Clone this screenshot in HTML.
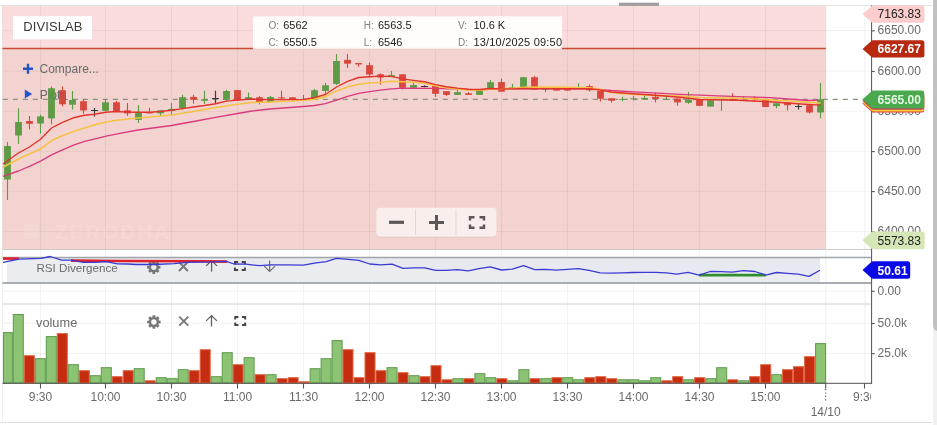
<!DOCTYPE html><html><head><meta charset="utf-8"><title>DIVISLAB chart</title>
<style>html,body{margin:0;padding:0;background:#fff}body{width:937px;height:425px;overflow:hidden;position:relative}svg{display:block;will-change:transform}text{font-family:"Liberation Sans", sans-serif}</style></head><body>
<svg width="937" height="425" viewBox="0 0 937 425">
<rect width="937" height="425" fill="#fff"/>
<rect x="2.5" y="5.5" width="823.3" height="43" fill="#fadcdc"/>
<rect x="2.5" y="48.5" width="823.3" height="201" fill="#f3d3cf"/>
<rect x="0" y="5" width="932" height="1" fill="#e3e3e3"/>
<g stroke="#000" stroke-opacity="0.05" stroke-width="1" fill="none">
<path d="M40.5 5.5V383"/>
<path d="M105.5 5.5V383"/>
<path d="M171.5 5.5V383"/>
<path d="M237.5 5.5V383"/>
<path d="M303.5 5.5V383"/>
<path d="M369.5 5.5V383"/>
<path d="M435.5 5.5V383"/>
<path d="M501.5 5.5V383"/>
<path d="M567.5 5.5V383"/>
<path d="M633.5 5.5V383"/>
<path d="M699.5 5.5V383"/>
<path d="M765.5 5.5V383"/>
<path d="M2.5 30.5H871"/>
<path d="M2.5 71.2H871"/>
<path d="M2.5 111.3H871"/>
<path d="M2.5 151.3H871"/>
<path d="M2.5 191.3H871"/>
<path d="M2.5 231.6H871"/>
</g>
<g stroke="#000" stroke-opacity="0.06" stroke-width="1" fill="none">
<path d="M825.8 5.5V383"/><path d="M864.8 5.5V383"/>
<path d="M2.5 5.5V422"/>
<path d="M2.5 291H871"/>
<path d="M2.5 323.2H871"/>
<path d="M2.5 353.4H871"/>
</g>
<path d="M2.5 249.5H871" stroke="#ccc" stroke-width="1"/>
<path d="M2.5 304H871" stroke="#d0d0d0" stroke-width="1"/>
<rect x="7" y="257.5" width="813" height="25.5" fill="#eaecf0"/>
<polygon points="7,257.5 19.0,259.1 41.0,258.4 50.3,256.5 61.5,260.1 72.0,260.1 83.2,262.3 95.0,262.3 106.3,261.6 117.3,263.9 128.0,264.0 136.0,264.5 155.0,264.5 174.0,263.6 187.0,262.3 212.0,261.9 225.0,261.4 227.0,261.6 234.0,264.0 246.0,264.2 259.7,265.7 271.0,264.9 284.0,264.9 303.3,265.2 316.0,262.9 326.3,261.6 336.4,258.4 348.0,259.3 358.8,260.4 369.7,264.0 380.6,264.9 392.0,264.2 403.0,268.3 414.0,267.8 424.8,267.8 435.7,270.4 446.0,270.3 457.3,269.7 468.2,270.9 479.0,268.7 490.2,266.8 501.5,270.0 512.4,269.1 523.5,265.7 534.8,269.7 545.7,269.3 556.4,270.2 567.3,269.3 578.2,268.7 589.0,270.4 600.2,272.9 611.5,273.2 622.4,272.8 633.3,272.5 644.8,272.3 655.7,272.3 666.4,272.8 676.6,274.2 688.2,272.3 699.1,275.1 710.2,271.5 721.5,271.6 732.4,272.2 743.5,270.6 754.8,271.5 765.7,275.1 776.5,272.5 787.3,273.4 798.2,274.2 809.0,276.4 820.0,270.2 820,257.5" fill="#dcdcfb" fill-opacity="0.13"/>
<path d="M2.5 257.5H871" stroke="#a0a5ab" stroke-width="1.4"/>
<path d="M2.5 283H871" stroke="#a8adb3" stroke-width="1.8"/>
<g opacity="0.13" fill="#fff"><rect x="24.4" y="224.5" width="14.4" height="14.5" rx="2"/><text x="55" y="239" font-size="20" font-weight="bold" textLength="114" lengthAdjust="spacing">ZERODHA</text></g>
<path d="M2.5 48.5H825.8" stroke="#cb4a35" stroke-width="1.5"/>
<path d="M2.8 99.4H871" stroke="#8a917f" stroke-width="1.1" stroke-dasharray="5 5"/>
<path d="M23 68.8H33M28 63.8V73.8" stroke="#2456c8" stroke-width="2.4" fill="none"/>
<text x="39.5" y="72.7" font-size="12" fill="#6a6a6a">Compare...</text>
<path d="M24.8 89.6L32.2 94 24.8 98.4Z" fill="#2456c8"/>
<text x="39.7" y="98.9" font-size="12" fill="#6a6a6a">Plots</text>
<path d="M7.5 142V200" stroke="#5d9b44" stroke-width="1.1"/>
<rect x="4.1" y="146" width="6.8" height="33.5" fill="#5d9b44"/>
<path d="M18.5 108.2V143.8" stroke="#5d9b44" stroke-width="1.1"/>
<rect x="15.1" y="122" width="6.8" height="13.5" fill="#5d9b44"/>
<path d="M29.5 116V129.4" stroke="#d8473c" stroke-width="1.1"/>
<rect x="26.1" y="121" width="6.8" height="2.8" fill="#d8473c"/>
<path d="M40.5 114.6V133.6" stroke="#5d9b44" stroke-width="1.1"/>
<rect x="37.1" y="116.4" width="6.8" height="7.1" fill="#5d9b44"/>
<path d="M51.5 86.4V124.5" stroke="#5d9b44" stroke-width="1.1"/>
<rect x="48.1" y="88.2" width="6.8" height="30.2" fill="#5d9b44"/>
<path d="M62.5 86.4V106.5" stroke="#d8473c" stroke-width="1.1"/>
<rect x="59.1" y="90.2" width="6.8" height="14.1" fill="#d8473c"/>
<path d="M72.5 91V109.6" stroke="#5d9b44" stroke-width="1.1"/>
<rect x="69.1" y="100" width="6.8" height="4.7" fill="#5d9b44"/>
<path d="M83.5 99V113.9" stroke="#d8473c" stroke-width="1.1"/>
<rect x="80.1" y="101.2" width="6.8" height="9.2" fill="#d8473c"/>
<path d="M94.5 108V116.4M91.0 110.5H98.0" stroke="#3a3a3a" stroke-width="1.2" fill="none"/>
<path d="M105.5 99V110.8" stroke="#5d9b44" stroke-width="1.1"/>
<rect x="102.1" y="102.3" width="6.8" height="8.5" fill="#5d9b44"/>
<path d="M116.5 100.9V111.3" stroke="#d8473c" stroke-width="1.1"/>
<rect x="113.1" y="102.3" width="6.8" height="9.0" fill="#d8473c"/>
<path d="M127.5 103V116" stroke="#d8473c" stroke-width="1.1"/>
<rect x="124.1" y="110.3" width="6.8" height="3.1" fill="#d8473c"/>
<path d="M138.5 105V123" stroke="#5d9b44" stroke-width="1.1"/>
<rect x="135.1" y="112.8" width="6.8" height="7.1" fill="#5d9b44"/>
<path d="M149.5 107.8V113.4" stroke="#d8473c" stroke-width="1.1"/>
<rect x="146.1" y="112.4" width="6.8" height="1.0" fill="#d8473c"/>
<path d="M160.5 110.3V116" stroke="#5d9b44" stroke-width="1.1"/>
<rect x="157.1" y="110.3" width="6.8" height="3.1" fill="#5d9b44"/>
<path d="M171.5 103V115" stroke="#5d9b44" stroke-width="1.1"/>
<rect x="168.1" y="108.9" width="6.8" height="2.1" fill="#5d9b44"/>
<path d="M182.5 94.8V109.6" stroke="#5d9b44" stroke-width="1.1"/>
<rect x="179.1" y="97.2" width="6.8" height="11.0" fill="#5d9b44"/>
<path d="M193.5 94.8V103.7" stroke="#d8473c" stroke-width="1.1"/>
<rect x="190.1" y="96.9" width="6.8" height="2.8" fill="#d8473c"/>
<path d="M204.5 90.8V104" stroke="#5d9b44" stroke-width="1.1"/>
<rect x="201.1" y="99.3" width="6.8" height="1.5" fill="#5d9b44"/>
<path d="M215.5 90.8V103.2M212.0 98.5H219.0" stroke="#3a3a3a" stroke-width="1.2" fill="none"/>
<path d="M226.5 89.8V101" stroke="#5d9b44" stroke-width="1.1"/>
<rect x="223.1" y="91" width="6.8" height="8.7" fill="#5d9b44"/>
<path d="M237.5 90.1V100.4" stroke="#d8473c" stroke-width="1.1"/>
<rect x="234.1" y="90.1" width="6.8" height="10.3" fill="#d8473c"/>
<path d="M248.5 92.5V100" stroke="#5d9b44" stroke-width="1.1"/>
<rect x="245.1" y="97.2" width="6.8" height="2.8" fill="#5d9b44"/>
<path d="M259.5 95.9V104.4" stroke="#d8473c" stroke-width="1.1"/>
<rect x="256.1" y="97.3" width="6.8" height="5.7" fill="#d8473c"/>
<path d="M270.5 95.9V102" stroke="#5d9b44" stroke-width="1.1"/>
<rect x="267.1" y="97" width="6.8" height="5.0" fill="#5d9b44"/>
<path d="M281.5 90.7V99.4" stroke="#d8473c" stroke-width="1.1"/>
<rect x="278.1" y="97.3" width="6.8" height="1.1" fill="#d8473c"/>
<path d="M292.5 97.3V101.1" stroke="#d8473c" stroke-width="1.1"/>
<rect x="289.1" y="97.3" width="6.8" height="2.4" fill="#d8473c"/>
<path d="M303.5 94.9V101.1" stroke="#d8473c" stroke-width="1.1"/>
<rect x="300.1" y="99.1" width="6.8" height="0.9" fill="#d8473c"/>
<path d="M314.5 88.8V99.7" stroke="#5d9b44" stroke-width="1.1"/>
<rect x="311.1" y="90.2" width="6.8" height="9.5" fill="#5d9b44"/>
<path d="M325.5 82.9V93.8" stroke="#5d9b44" stroke-width="1.1"/>
<rect x="322.1" y="85.3" width="6.8" height="5.6" fill="#5d9b44"/>
<path d="M336.5 54V85" stroke="#5d9b44" stroke-width="1.1"/>
<rect x="333.1" y="61" width="6.8" height="22.9" fill="#5d9b44"/>
<path d="M347.5 54V67.9" stroke="#d8473c" stroke-width="1.1"/>
<rect x="344.1" y="59.9" width="6.8" height="3.8" fill="#d8473c"/>
<path d="M358.5 63V66.7" stroke="#d8473c" stroke-width="1.1"/>
<rect x="355.1" y="63" width="6.8" height="1.4" fill="#d8473c"/>
<path d="M369.5 62.4V77.3" stroke="#d8473c" stroke-width="1.1"/>
<rect x="366.1" y="65.2" width="6.8" height="9.3" fill="#d8473c"/>
<path d="M380.5 73.3V84.6" stroke="#d8473c" stroke-width="1.1"/>
<rect x="377.1" y="74.3" width="6.8" height="3.2" fill="#d8473c"/>
<path d="M391.5 70.9V77.1" stroke="#5d9b44" stroke-width="1.1"/>
<rect x="388.1" y="75.1" width="6.8" height="2.0" fill="#5d9b44"/>
<path d="M402.5 74.3V89.5" stroke="#d8473c" stroke-width="1.1"/>
<rect x="399.1" y="74.3" width="6.8" height="13.5" fill="#d8473c"/>
<path d="M413.5 83.2V87.8" stroke="#5d9b44" stroke-width="1.1"/>
<rect x="410.1" y="85" width="6.8" height="2.8" fill="#5d9b44"/>
<path d="M424.5 85.3V87.2M421.0 86.5H428.0" stroke="#3a3a3a" stroke-width="1.2" fill="none"/>
<path d="M435.5 86V96.9" stroke="#d8473c" stroke-width="1.1"/>
<rect x="432.1" y="86" width="6.8" height="7.8" fill="#d8473c"/>
<path d="M446.5 91.2V95.9" stroke="#d8473c" stroke-width="1.1"/>
<rect x="443.1" y="91.2" width="6.8" height="3.7" fill="#d8473c"/>
<path d="M457.5 90V94.9" stroke="#5d9b44" stroke-width="1.1"/>
<rect x="454.1" y="92.1" width="6.8" height="2.8" fill="#5d9b44"/>
<path d="M468.5 92.1V94.9" stroke="#d8473c" stroke-width="1.1"/>
<rect x="465.1" y="93.3" width="6.8" height="1.6" fill="#d8473c"/>
<path d="M479.5 90V94.9" stroke="#5d9b44" stroke-width="1.1"/>
<rect x="476.1" y="90" width="6.8" height="4.9" fill="#5d9b44"/>
<path d="M490.5 80.1V88" stroke="#5d9b44" stroke-width="1.1"/>
<rect x="487.1" y="82.2" width="6.8" height="5.8" fill="#5d9b44"/>
<path d="M501.5 78.7V91.7" stroke="#d8473c" stroke-width="1.1"/>
<rect x="498.1" y="82.1" width="6.8" height="9.6" fill="#d8473c"/>
<path d="M512.5 83.9V88.2" stroke="#5d9b44" stroke-width="1.1"/>
<rect x="509.1" y="87.4" width="6.8" height="0.9" fill="#5d9b44"/>
<path d="M523.5 77.2V87.2" stroke="#5d9b44" stroke-width="1.1"/>
<rect x="520.1" y="77.2" width="6.8" height="10.0" fill="#5d9b44"/>
<path d="M534.5 75.9V89.6" stroke="#d8473c" stroke-width="1.1"/>
<rect x="531.1" y="77.2" width="6.8" height="12.4" fill="#d8473c"/>
<path d="M545.5 88.2V92" stroke="#5d9b44" stroke-width="1.1"/>
<rect x="542.1" y="88.2" width="6.8" height="1.4" fill="#5d9b44"/>
<path d="M556.5 88.2V90.6" stroke="#d8473c" stroke-width="1.1"/>
<rect x="553.1" y="88.2" width="6.8" height="2.4" fill="#d8473c"/>
<path d="M567.5 88.2V90.6" stroke="#d8473c" stroke-width="1.1"/>
<rect x="564.1" y="88.2" width="6.8" height="2.4" fill="#d8473c"/>
<path d="M578.5 83.2V87.8" stroke="#5d9b44" stroke-width="1.1"/>
<rect x="575.1" y="87" width="6.8" height="0.9" fill="#5d9b44"/>
<path d="M589.5 84.6V91.4" stroke="#d8473c" stroke-width="1.1"/>
<rect x="586.1" y="86.1" width="6.8" height="4.2" fill="#d8473c"/>
<path d="M600.5 91V101.5" stroke="#d8473c" stroke-width="1.1"/>
<rect x="597.1" y="91" width="6.8" height="7.7" fill="#d8473c"/>
<path d="M611.5 98.3V102.5" stroke="#d8473c" stroke-width="1.1"/>
<rect x="608.1" y="98.3" width="6.8" height="2.4" fill="#d8473c"/>
<path d="M622.5 96.8V101.4" stroke="#5d9b44" stroke-width="1.1"/>
<rect x="619.1" y="99" width="6.8" height="0.9" fill="#5d9b44"/>
<path d="M633.5 96V100.6" stroke="#5d9b44" stroke-width="1.1"/>
<rect x="630.1" y="98.3" width="6.8" height="0.9" fill="#5d9b44"/>
<path d="M644.5 94.6V99.3" stroke="#5d9b44" stroke-width="1.1"/>
<rect x="641.1" y="97.9" width="6.8" height="1.4" fill="#5d9b44"/>
<path d="M655.5 92.5V102.4" stroke="#d8473c" stroke-width="1.1"/>
<rect x="652.1" y="96.8" width="6.8" height="2.1" fill="#d8473c"/>
<path d="M666.5 96.3V99.6" stroke="#5d9b44" stroke-width="1.1"/>
<rect x="663.1" y="98.9" width="6.8" height="0.9" fill="#5d9b44"/>
<path d="M677.5 98.5V105.7" stroke="#d8473c" stroke-width="1.1"/>
<rect x="674.1" y="98.5" width="6.8" height="3.9" fill="#d8473c"/>
<path d="M688.5 91.8V103.8" stroke="#5d9b44" stroke-width="1.1"/>
<rect x="685.1" y="99.6" width="6.8" height="3.2" fill="#5d9b44"/>
<path d="M699.5 100V105.9" stroke="#d8473c" stroke-width="1.1"/>
<rect x="696.1" y="100" width="6.8" height="5.9" fill="#d8473c"/>
<path d="M710.5 100.3V106.6" stroke="#5d9b44" stroke-width="1.1"/>
<rect x="707.1" y="100.3" width="6.8" height="6.3" fill="#5d9b44"/>
<path d="M721.5 98.9V110.9" stroke="#5d9b44" stroke-width="1.1"/>
<rect x="718.1" y="98.9" width="6.8" height="0.9" fill="#5d9b44"/>
<path d="M732.5 93.3V100.4" stroke="#d8473c" stroke-width="1.1"/>
<rect x="729.1" y="98.9" width="6.8" height="1.5" fill="#d8473c"/>
<path d="M743.5 96.8V100.8" stroke="#d8473c" stroke-width="1.1"/>
<rect x="740.1" y="98.2" width="6.8" height="1.2" fill="#d8473c"/>
<path d="M754.5 96.1V101.8" stroke="#d8473c" stroke-width="1.1"/>
<rect x="751.1" y="98" width="6.8" height="1.0" fill="#d8473c"/>
<path d="M765.5 99.6V107" stroke="#d8473c" stroke-width="1.1"/>
<rect x="762.1" y="99.6" width="6.8" height="7.4" fill="#d8473c"/>
<path d="M776.5 103.3V108.3" stroke="#5d9b44" stroke-width="1.1"/>
<rect x="773.1" y="103.3" width="6.8" height="2.8" fill="#5d9b44"/>
<path d="M787.5 102.6V110.5" stroke="#d8473c" stroke-width="1.1"/>
<rect x="784.1" y="102.6" width="6.8" height="2.6" fill="#d8473c"/>
<path d="M798.5 103.8V109.4M795.0 106.5H802.0" stroke="#3a3a3a" stroke-width="1.2" fill="none"/>
<path d="M809.5 103.8V113.6" stroke="#d8473c" stroke-width="1.1"/>
<rect x="806.1" y="105.2" width="6.8" height="7.3" fill="#d8473c"/>
<path d="M820.5 82.9V118.4" stroke="#5d9b44" stroke-width="1.1"/>
<rect x="817.1" y="99.2" width="6.8" height="13.3" fill="#5d9b44"/>
<text x="39.7" y="98.9" font-size="12" fill="#6a6a6a" fill-opacity="0.28">Plots</text>
<polyline points="3.0,176.4 18.4,171.0 29.4,166.3 40.5,161.1 51.5,154.8 62.5,149.8 73.5,145.2 84.7,141.4 96.0,138.6 107.3,135.8 120.0,133.3 138.0,130.0 171.5,125.5 193.5,121.5 215.6,117.4 237.6,113.5 252.0,111.0 270.0,109.0 290.0,107.5 303.5,106.5 314.4,105.5 325.4,103.6 336.6,100.1 347.6,96.3 358.6,93.3 369.6,91.6 380.6,90.2 391.5,88.8 402.4,88.1 435.5,88.4 457.4,89.2 479.4,89.8 490.3,89.2 501.5,88.9 545.4,88.9 589.4,88.7 600.4,89.6 611.3,90.5 633.6,91.8 666.5,93.6 680.0,94.3 699.5,95.1 738.0,96.6 770.0,97.6 808.4,100.5 818.0,100.2" fill="none" stroke="#d93a7c" stroke-width="1.35" stroke-linejoin="round"/>
<polyline points="3.0,167.2 18.4,159.0 29.4,154.0 40.5,149.1 51.5,140.6 62.5,135.5 73.4,131.5 84.5,128.0 94.3,124.9 105.6,122.3 116.5,120.2 138.0,118.0 150.0,117.0 171.5,115.0 193.5,111.5 215.6,107.5 237.6,104.3 252.0,102.5 270.0,102.0 290.0,101.0 303.5,100.3 314.4,99.1 325.4,96.6 336.6,90.9 347.6,87.0 358.6,84.3 369.6,83.0 380.6,82.5 391.5,81.3 402.4,81.8 413.4,82.3 424.5,83.2 435.5,85.8 446.4,87.8 457.4,89.1 468.4,90.0 479.4,90.2 490.3,89.2 501.5,88.8 512.5,88.3 523.5,87.2 545.4,87.1 567.5,87.3 589.4,87.8 600.4,89.4 611.3,92.6 633.6,94.4 655.0,95.4 680.0,96.0 699.5,97.5 738.0,98.2 770.0,99.7 808.4,102.3 820.5,103.1" fill="none" stroke="#f4c345" stroke-width="1.6" stroke-linejoin="round"/>
<polyline points="3.0,164.0 7.3,161.0 18.4,153.0 29.4,147.0 40.5,139.2 51.5,128.0 62.5,122.4 73.5,117.8 84.7,115.3 94.3,114.3 105.6,112.2 116.5,111.5 127.5,112.1 138.0,112.3 150.0,112.3 160.0,111.5 171.5,110.3 182.5,108.6 193.5,107.0 204.5,105.5 215.6,103.7 226.6,101.1 237.6,100.1 252.0,99.0 262.0,99.6 281.0,99.6 303.5,99.4 314.4,97.7 325.4,94.5 336.6,87.0 347.6,81.3 358.6,77.5 369.6,76.7 380.6,76.1 391.5,76.4 402.4,78.9 413.4,80.4 424.5,81.8 435.5,84.6 446.4,86.7 457.4,88.1 468.4,89.2 479.4,89.5 490.3,88.5 501.5,88.9 512.5,88.9 523.5,88.5 534.5,88.6 545.4,88.6 567.5,88.7 589.4,88.8 600.4,90.0 611.3,92.0 633.6,93.7 655.0,95.2 680.0,97.2 699.5,99.5 738.0,100.2 770.0,101.8 808.4,104.5 820.5,105.1" fill="none" stroke="#e0332b" stroke-width="1.4" stroke-linejoin="round"/>
<rect x="253" y="16.3" width="309" height="33.1" fill="#fff" fill-opacity="0.9"/>
<g font-size="10" fill="#808080">
<text x="268.4" y="29">O:</text>
<text x="268.4" y="45.8">C:</text>
<text x="363.7" y="29">H:</text>
<text x="363.7" y="45.8">L:</text>
<text x="458" y="29">V:</text>
<text x="458" y="45.8">D:</text>
</g><g font-size="11" fill="#222">
<text x="283.2" y="29">6562</text>
<text x="283.2" y="45.8">6550.5</text>
<text x="378" y="29">6563.5</text>
<text x="378" y="45.8">6546</text>
<text x="473.4" y="29">10.6 K</text>
<text x="473.4" y="45.8" textLength="88.6" lengthAdjust="spacing">13/10/2025 09:50</text>
</g>
<rect x="13" y="16.2" width="79" height="23.2" fill="#fff"/>
<text x="23.3" y="31.4" font-size="13" fill="#3a3a3a" textLength="59.2" lengthAdjust="spacing">DIVISLAB</text>
<rect x="619" y="2.7" width="40" height="3.2" fill="#a19c9b"/>
<rect x="376.2" y="208.5" width="120.4" height="29" rx="4" fill="#d9b8b4" fill-opacity="0.6"/>
<rect x="376.2" y="207.7" width="120.4" height="29" rx="4" fill="#f8eeec"/>
<path d="M415.5 209.5V235M456 209.5V235" stroke="#e3d5d3" stroke-width="1"/>
<path d="M389 222.3H404" stroke="#5a5756" stroke-width="3.2"/>
<path d="M429 222.5H444M436.5 215V230" stroke="#5a5756" stroke-width="3" fill="none"/>
<path d="M470 220.5V217.3H474.5M479.5 217.3H484V220.5M484 224.5V227.7H479.5M474.5 227.7H470V224.5" stroke="#5a5756" stroke-width="2.4" fill="none"/>
<path d="M160.48 265.92 L160.48 268.48 L158.56 268.73 L158.25 269.49 L159.43 271.01 L157.61 272.83 L156.09 271.65 L155.33 271.96 L155.08 273.88 L152.52 273.88 L152.27 271.96 L151.51 271.65 L149.99 272.83 L148.17 271.01 L149.35 269.49 L149.04 268.73 L147.12 268.48 L147.12 265.92 L149.04 265.67 L149.35 264.91 L148.17 263.39 L149.99 261.57 L151.51 262.75 L152.27 262.44 L152.52 260.52 L155.08 260.52 L155.33 262.44 L156.09 262.75 L157.61 261.57 L159.43 263.39 L158.25 264.91 L158.56 265.67ZM156.50 267.20A2.70 2.70 0 1 0 151.10 267.20A2.70 2.70 0 1 0 156.50 267.20Z" fill="#767676" fill-rule="evenodd"/>
<path d="M178.9 262.0L187.9 271.0M187.9 262.0L178.9 271.0" stroke="#787878" stroke-width="1.9" fill="none"/>
<path d="M211.6 271.5V261M206.2 265.9L211.6 260.6L217.0 265.9" stroke="#606060" stroke-width="1.25" fill="none"/>
<path d="M234.9 264.4V262H238.1M241.70000000000002 262H244.9V264.4M244.9 267.6V270H241.70000000000002M238.1 270H234.9V267.6" stroke="#444" stroke-width="1.9" fill="none"/>
<path d="M269.6 260.5V271M264.20000000000005 266.1L269.6 271.4L275.0 266.1" stroke="#707070" stroke-width="1.25" fill="none"/>
<path d="M3 258.6H19" stroke="#e0202a" stroke-width="2.6"/>
<path d="M71 260.6L120 261 200 261.2 227 261.6" stroke="#e0202a" stroke-width="2.6" fill="none"/>
<path d="M699.1 275.1H765.7" stroke="#2f8f2f" stroke-width="2.6"/>
<polyline points="3.0,262.3 19.0,259.1 41.0,258.4 50.3,256.5 61.5,260.1 72.0,260.1 83.2,262.3 95.0,262.3 106.3,261.6 117.3,263.9 128.0,264.0 136.0,264.5 155.0,264.5 174.0,263.6 187.0,262.3 212.0,261.9 225.0,261.4 227.0,261.6 234.0,264.0 246.0,264.2 259.7,265.7 271.0,264.9 284.0,264.9 303.3,265.2 316.0,262.9 326.3,261.6 336.4,258.4 348.0,259.3 358.8,260.4 369.7,264.0 380.6,264.9 392.0,264.2 403.0,268.3 414.0,267.8 424.8,267.8 435.7,270.4 446.0,270.3 457.3,269.7 468.2,270.9 479.0,268.7 490.2,266.8 501.5,270.0 512.4,269.1 523.5,265.7 534.8,269.7 545.7,269.3 556.4,270.2 567.3,269.3 578.2,268.7 589.0,270.4 600.2,272.9 611.5,273.2 622.4,272.8 633.3,272.5 644.8,272.3 655.7,272.3 666.4,272.8 676.6,274.2 688.2,272.3 699.1,275.1 710.2,271.5 721.5,271.6 732.4,272.2 743.5,270.6 754.8,271.5 765.7,275.1 776.5,272.5 787.3,273.4 798.2,274.2 809.0,276.4 820.0,270.2" fill="none" stroke="#3a3ad2" stroke-width="1.3" stroke-linejoin="round"/>
<text x="36.5" y="271.6" font-size="11.6" fill="#6a6a6a">RSI Divergence</text>
<path d="M160.58 320.72 L160.58 323.28 L158.66 323.53 L158.35 324.29 L159.53 325.81 L157.71 327.63 L156.19 326.45 L155.43 326.76 L155.18 328.68 L152.62 328.68 L152.37 326.76 L151.61 326.45 L150.09 327.63 L148.27 325.81 L149.45 324.29 L149.14 323.53 L147.22 323.28 L147.22 320.72 L149.14 320.47 L149.45 319.71 L148.27 318.19 L150.09 316.37 L151.61 317.55 L152.37 317.24 L152.62 315.32 L155.18 315.32 L155.43 317.24 L156.19 317.55 L157.71 316.37 L159.53 318.19 L158.35 319.71 L158.66 320.47ZM156.60 322.00A2.70 2.70 0 1 0 151.20 322.00A2.70 2.70 0 1 0 156.60 322.00Z" fill="#767676" fill-rule="evenodd"/>
<path d="M179.3 316.7L188.3 325.7M188.3 316.7L179.3 325.7" stroke="#787878" stroke-width="1.9" fill="none"/>
<path d="M211.5 326.5V316M206.1 320.9L211.5 315.6L216.9 320.9" stroke="#606060" stroke-width="1.25" fill="none"/>
<path d="M235.2 319.4V317H238.39999999999998M242.0 317H245.2V319.4M245.2 322.6V325H242.0M238.39999999999998 325H235.2V322.6" stroke="#444" stroke-width="1.9" fill="none"/>
<rect x="3.5" y="332.6" width="8.8" height="50.4" fill="#8cc474" stroke="#5b9a4b" stroke-width="1"/>
<rect x="13.3" y="314.5" width="10.0" height="68.5" fill="#8cc474" stroke="#5b9a4b" stroke-width="1"/>
<rect x="24.3" y="355.7" width="10.0" height="27.3" fill="#c62d10" stroke="#e2623f" stroke-width="1"/>
<rect x="35.3" y="358.7" width="10.0" height="24.3" fill="#8cc474" stroke="#5b9a4b" stroke-width="1"/>
<rect x="46.3" y="336.6" width="10.0" height="46.4" fill="#8cc474" stroke="#5b9a4b" stroke-width="1"/>
<rect x="57.3" y="333.6" width="10.0" height="49.4" fill="#c62d10" stroke="#e2623f" stroke-width="1"/>
<rect x="68.3" y="364.7" width="10.0" height="18.3" fill="#8cc474" stroke="#5b9a4b" stroke-width="1"/>
<rect x="79.3" y="370.7" width="10.0" height="12.3" fill="#c62d10" stroke="#e2623f" stroke-width="1"/>
<rect x="90.3" y="375.7" width="10.0" height="7.3" fill="#8cc474" stroke="#5b9a4b" stroke-width="1"/>
<rect x="101.3" y="367.7" width="10.0" height="15.3" fill="#8cc474" stroke="#5b9a4b" stroke-width="1"/>
<rect x="112.2" y="376.7" width="10.0" height="6.3" fill="#c62d10" stroke="#e2623f" stroke-width="1"/>
<rect x="123.2" y="370.7" width="10.0" height="12.3" fill="#c62d10" stroke="#e2623f" stroke-width="1"/>
<rect x="134.2" y="368.7" width="10.0" height="14.3" fill="#8cc474" stroke="#5b9a4b" stroke-width="1"/>
<rect x="145.2" y="380.8" width="10.0" height="2.2" fill="#c62d10" stroke="#e2623f" stroke-width="1"/>
<rect x="156.2" y="377.7" width="10.0" height="5.3" fill="#8cc474" stroke="#5b9a4b" stroke-width="1"/>
<rect x="167.2" y="378.7" width="10.0" height="4.3" fill="#8cc474" stroke="#5b9a4b" stroke-width="1"/>
<rect x="178.2" y="369.7" width="10.0" height="13.3" fill="#8cc474" stroke="#5b9a4b" stroke-width="1"/>
<rect x="189.2" y="370.7" width="10.0" height="12.3" fill="#c62d10" stroke="#e2623f" stroke-width="1"/>
<rect x="200.2" y="349.7" width="10.0" height="33.3" fill="#c62d10" stroke="#e2623f" stroke-width="1"/>
<rect x="211.2" y="376.7" width="10.0" height="6.3" fill="#8cc474" stroke="#5b9a4b" stroke-width="1"/>
<rect x="222.2" y="352.7" width="10.0" height="30.3" fill="#8cc474" stroke="#5b9a4b" stroke-width="1"/>
<rect x="233.1" y="364.7" width="10.0" height="18.3" fill="#c62d10" stroke="#e2623f" stroke-width="1"/>
<rect x="244.1" y="357.7" width="10.0" height="25.3" fill="#8cc474" stroke="#5b9a4b" stroke-width="1"/>
<rect x="255.1" y="374.7" width="10.0" height="8.3" fill="#c62d10" stroke="#e2623f" stroke-width="1"/>
<rect x="266.1" y="374.7" width="10.0" height="8.3" fill="#8cc474" stroke="#5b9a4b" stroke-width="1"/>
<rect x="277.1" y="378.7" width="10.0" height="4.3" fill="#c62d10" stroke="#e2623f" stroke-width="1"/>
<rect x="288.1" y="377.7" width="10.0" height="5.3" fill="#c62d10" stroke="#e2623f" stroke-width="1"/>
<rect x="299.1" y="381.8" width="10.0" height="1.2" fill="#c62d10" stroke="#e2623f" stroke-width="1"/>
<rect x="310.1" y="368.7" width="10.0" height="14.3" fill="#8cc474" stroke="#5b9a4b" stroke-width="1"/>
<rect x="321.1" y="358.7" width="10.0" height="24.3" fill="#8cc474" stroke="#5b9a4b" stroke-width="1"/>
<rect x="332.1" y="340.6" width="10.0" height="42.4" fill="#8cc474" stroke="#5b9a4b" stroke-width="1"/>
<rect x="343.0" y="349.7" width="10.0" height="33.3" fill="#c62d10" stroke="#e2623f" stroke-width="1"/>
<rect x="354.0" y="377.7" width="10.0" height="5.3" fill="#c62d10" stroke="#e2623f" stroke-width="1"/>
<rect x="365.0" y="352.7" width="10.0" height="30.3" fill="#c62d10" stroke="#e2623f" stroke-width="1"/>
<rect x="376.0" y="370.7" width="10.0" height="12.3" fill="#c62d10" stroke="#e2623f" stroke-width="1"/>
<rect x="387.0" y="367.7" width="10.0" height="15.3" fill="#8cc474" stroke="#5b9a4b" stroke-width="1"/>
<rect x="398.0" y="372.7" width="10.0" height="10.3" fill="#c62d10" stroke="#e2623f" stroke-width="1"/>
<rect x="409.0" y="375.7" width="10.0" height="7.3" fill="#8cc474" stroke="#5b9a4b" stroke-width="1"/>
<rect x="420.0" y="376.7" width="10.0" height="6.3" fill="#c62d10" stroke="#e2623f" stroke-width="1"/>
<rect x="431.0" y="365.7" width="10.0" height="17.3" fill="#c62d10" stroke="#e2623f" stroke-width="1"/>
<rect x="442.0" y="379.8" width="10.0" height="3.2" fill="#c62d10" stroke="#e2623f" stroke-width="1"/>
<rect x="452.9" y="378.7" width="10.0" height="4.3" fill="#8cc474" stroke="#5b9a4b" stroke-width="1"/>
<rect x="463.9" y="378.7" width="10.0" height="4.3" fill="#c62d10" stroke="#e2623f" stroke-width="1"/>
<rect x="474.9" y="373.7" width="10.0" height="9.3" fill="#8cc474" stroke="#5b9a4b" stroke-width="1"/>
<rect x="485.9" y="377.7" width="10.0" height="5.3" fill="#8cc474" stroke="#5b9a4b" stroke-width="1"/>
<rect x="496.9" y="378.7" width="10.0" height="4.3" fill="#c62d10" stroke="#e2623f" stroke-width="1"/>
<rect x="507.9" y="380.8" width="10.0" height="2.2" fill="#8cc474" stroke="#5b9a4b" stroke-width="1"/>
<rect x="518.9" y="369.7" width="10.0" height="13.3" fill="#8cc474" stroke="#5b9a4b" stroke-width="1"/>
<rect x="529.9" y="378.7" width="10.0" height="4.3" fill="#c62d10" stroke="#e2623f" stroke-width="1"/>
<rect x="540.9" y="378.7" width="10.0" height="4.3" fill="#8cc474" stroke="#5b9a4b" stroke-width="1"/>
<rect x="551.9" y="377.7" width="10.0" height="5.3" fill="#c62d10" stroke="#e2623f" stroke-width="1"/>
<rect x="562.8" y="377.7" width="10.0" height="5.3" fill="#8cc474" stroke="#5b9a4b" stroke-width="1"/>
<rect x="573.8" y="379.8" width="10.0" height="3.2" fill="#8cc474" stroke="#5b9a4b" stroke-width="1"/>
<rect x="584.8" y="377.7" width="10.0" height="5.3" fill="#c62d10" stroke="#e2623f" stroke-width="1"/>
<rect x="595.8" y="376.7" width="10.0" height="6.3" fill="#c62d10" stroke="#e2623f" stroke-width="1"/>
<rect x="606.8" y="378.7" width="10.0" height="4.3" fill="#c62d10" stroke="#e2623f" stroke-width="1"/>
<rect x="617.8" y="379.8" width="10.0" height="3.2" fill="#8cc474" stroke="#5b9a4b" stroke-width="1"/>
<rect x="628.8" y="379.8" width="10.0" height="3.2" fill="#8cc474" stroke="#5b9a4b" stroke-width="1"/>
<rect x="639.8" y="380.8" width="10.0" height="2.2" fill="#8cc474" stroke="#5b9a4b" stroke-width="1"/>
<rect x="650.8" y="377.7" width="10.0" height="5.3" fill="#8cc474" stroke="#5b9a4b" stroke-width="1"/>
<rect x="661.8" y="380.8" width="10.0" height="2.2" fill="#c62d10" stroke="#e2623f" stroke-width="1"/>
<rect x="672.7" y="376.7" width="10.0" height="6.3" fill="#c62d10" stroke="#e2623f" stroke-width="1"/>
<rect x="683.7" y="379.8" width="10.0" height="3.2" fill="#8cc474" stroke="#5b9a4b" stroke-width="1"/>
<rect x="694.7" y="377.7" width="10.0" height="5.3" fill="#c62d10" stroke="#e2623f" stroke-width="1"/>
<rect x="705.7" y="378.7" width="10.0" height="4.3" fill="#8cc474" stroke="#5b9a4b" stroke-width="1"/>
<rect x="716.7" y="367.7" width="10.0" height="15.3" fill="#8cc474" stroke="#5b9a4b" stroke-width="1"/>
<rect x="727.7" y="379.8" width="10.0" height="3.2" fill="#c62d10" stroke="#e2623f" stroke-width="1"/>
<rect x="738.7" y="380.8" width="10.0" height="2.2" fill="#8cc474" stroke="#5b9a4b" stroke-width="1"/>
<rect x="749.7" y="376.7" width="10.0" height="6.3" fill="#c62d10" stroke="#e2623f" stroke-width="1"/>
<rect x="760.7" y="364.7" width="10.0" height="18.3" fill="#c62d10" stroke="#e2623f" stroke-width="1"/>
<rect x="771.7" y="374.7" width="10.0" height="8.3" fill="#8cc474" stroke="#5b9a4b" stroke-width="1"/>
<rect x="782.6" y="369.7" width="10.0" height="13.3" fill="#c62d10" stroke="#e2623f" stroke-width="1"/>
<rect x="793.6" y="366.7" width="10.0" height="16.3" fill="#c62d10" stroke="#e2623f" stroke-width="1"/>
<rect x="804.6" y="356.7" width="10.0" height="26.3" fill="#c62d10" stroke="#e2623f" stroke-width="1"/>
<rect x="815.6" y="343.6" width="10.0" height="39.4" fill="#8cc474" stroke="#5b9a4b" stroke-width="1"/>
<text x="36" y="326.8" font-size="12.8" fill="#6a6a6a">volume</text>
<path d="M871.6 5.5V383.8" stroke="#505050" stroke-width="1"/>
<path d="M2.5 383.3H872.1" stroke="#505050" stroke-width="1"/>
<g stroke="#555" stroke-width="1.1">
<path d="M40.5 383.3V388.5"/>
<path d="M105.5 383.3V388.5"/>
<path d="M171.5 383.3V388.5"/>
<path d="M237.5 383.3V388.5"/>
<path d="M303.5 383.3V388.5"/>
<path d="M369.5 383.3V388.5"/>
<path d="M435.5 383.3V388.5"/>
<path d="M501.5 383.3V388.5"/>
<path d="M567.5 383.3V388.5"/>
<path d="M633.5 383.3V388.5"/>
<path d="M699.5 383.3V388.5"/>
<path d="M765.5 383.3V388.5"/>
<path d="M864.5 383.3V388.5"/><path d="M825.7 383.3V388.5"/>
</g>
<path d="M825.7 389V402.5" stroke="#555" stroke-width="1.1" stroke-dasharray="1.2 2.2"/>
<g font-size="12" fill="#6a6a6a" text-anchor="middle">
<text x="40.5" y="400.5">9:30</text>
<text x="105.5" y="400.5">10:00</text>
<text x="171.5" y="400.5">10:30</text>
<text x="237.5" y="400.5">11:00</text>
<text x="303.5" y="400.5">11:30</text>
<text x="369.5" y="400.5">12:00</text>
<text x="435.5" y="400.5">12:30</text>
<text x="501.5" y="400.5">13:00</text>
<text x="567.5" y="400.5">13:30</text>
<text x="633.5" y="400.5">14:00</text>
<text x="699.5" y="400.5">14:30</text>
<text x="765.5" y="400.5">15:00</text>
<text x="825.7" y="415.6">14/10</text>
</g>
<clipPath id="cl"><rect x="0" y="384" width="871" height="30"/></clipPath>
<text x="853" y="400.5" font-size="12" fill="#6a6a6a" clip-path="url(#cl)">9:30</text>
<g stroke="#555" stroke-width="1.1">
<path d="M871.6 30.8H874.7"/>
<path d="M871.6 71.5H874.7"/>
<path d="M871.6 111.6H874.7"/>
<path d="M871.6 151.6H874.7"/>
<path d="M871.6 191.6H874.7"/>
<path d="M871.6 231.9H874.7"/>
<path d="M871.6 291.3H874.7"/>
<path d="M871.6 323.5H874.7"/>
<path d="M871.6 353.7H874.7"/>
</g>
<g font-size="12" fill="#6a6a6a">
<text x="877.6" y="34.1">6650.00</text>
<text x="877.6" y="74.8">6600.00</text>
<text x="877.6" y="114.9">6550.00</text>
<text x="877.6" y="154.9">6500.00</text>
<text x="877.6" y="194.9">6450.00</text>
<text x="877.6" y="235.2">6400.00</text>
<text x="877.6" y="294.6">0.00</text>
<text x="877.6" y="326.8">50.0k</text>
<text x="877.6" y="357.0">25.0k</text>
</g>
<path d="M862.5 14.2L871.3 6.3999999999999995Q871.6 5.6 873 5.6H921.9Q924.4 5.6 924.4 8.1V20.299999999999997Q924.4 22.799999999999997 921.9 22.799999999999997H873Q871.6 22.799999999999997 871.3 21.999999999999996Z" fill="#fbcdcd"/><text x="877.6" y="18.2" font-size="12" fill="#222">7163.83</text>
<path d="M862.5 48.900000000000006L871.3 41.0Q871.6 40.2 873 40.2H921.9Q924.4 40.2 924.4 42.7V55.1Q924.4 57.6 921.9 57.6H873Q871.6 57.6 871.3 56.800000000000004Z" fill="#b72a10"/><text x="877.6" y="52.9" font-size="12" font-weight="bold" fill="#fff">6627.67</text>
<path d="M862.5 103.4L871.3 95.2Q871.6 94.4 873 94.4H921.7Q924.2 94.4 924.2 96.9V109.9Q924.2 112.4 921.7 112.4H873Q871.6 112.4 871.3 111.60000000000001Z" fill="#e0332b"/>
<path d="M862.5 102.4L871.3 94.2Q871.6 93.4 873 93.4H921.7Q924.2 93.4 924.2 95.9V108.9Q924.2 111.4 921.7 111.4H873Q871.6 111.4 871.3 110.60000000000001Z" fill="#f7d43a"/>
<path d="M862.5 100.8L871.3 92.6Q871.6 91.8 873 91.8H921.7Q924.2 91.8 924.2 94.3V107.3Q924.2 109.8 921.7 109.8H873Q871.6 109.8 871.3 109.0Z" fill="#c8385c"/>
<path d="M862.5 99.55L871.3 91.39999999999999Q871.6 90.6 873 90.6H921.7Q924.2 90.6 924.2 93.1V106.0Q924.2 108.5 921.7 108.5H873Q871.6 108.5 871.3 107.7Z" fill="#4aa84e"/><text x="877.6" y="103.5" font-size="12" font-weight="bold" fill="#e2fbe2">6565.00</text>
<path d="M862.5 240.3L871.3 232.20000000000002Q871.6 231.4 873 231.4H922.2Q924.7 231.4 924.7 233.9V246.70000000000002Q924.7 249.20000000000002 922.2 249.20000000000002H873Q871.6 249.20000000000002 871.3 248.4Z" fill="#d5e7b6"/><text x="877.6" y="244.9" font-size="12" fill="#222">5573.83</text>
<path d="M862.5 269.95L871.3 262.0Q871.6 261.2 873 261.2H907.7Q910.2 261.2 910.2 263.7V276.2Q910.2 278.7 907.7 278.7H873Q871.6 278.7 871.3 277.9Z" fill="#0a0ae8"/><text x="877.6" y="274.8" font-size="12" font-weight="bold" fill="#fff">50.61</text>
<rect x="933" y="0" width="4" height="425" fill="#f1f1f1"/>
<path d="M933 0H937V331Q933.6 330 933 326Z" fill="#c1c1c1"/>
<rect x="0" y="422" width="932" height="1" fill="#e0e0e0"/>
</svg></body></html>
